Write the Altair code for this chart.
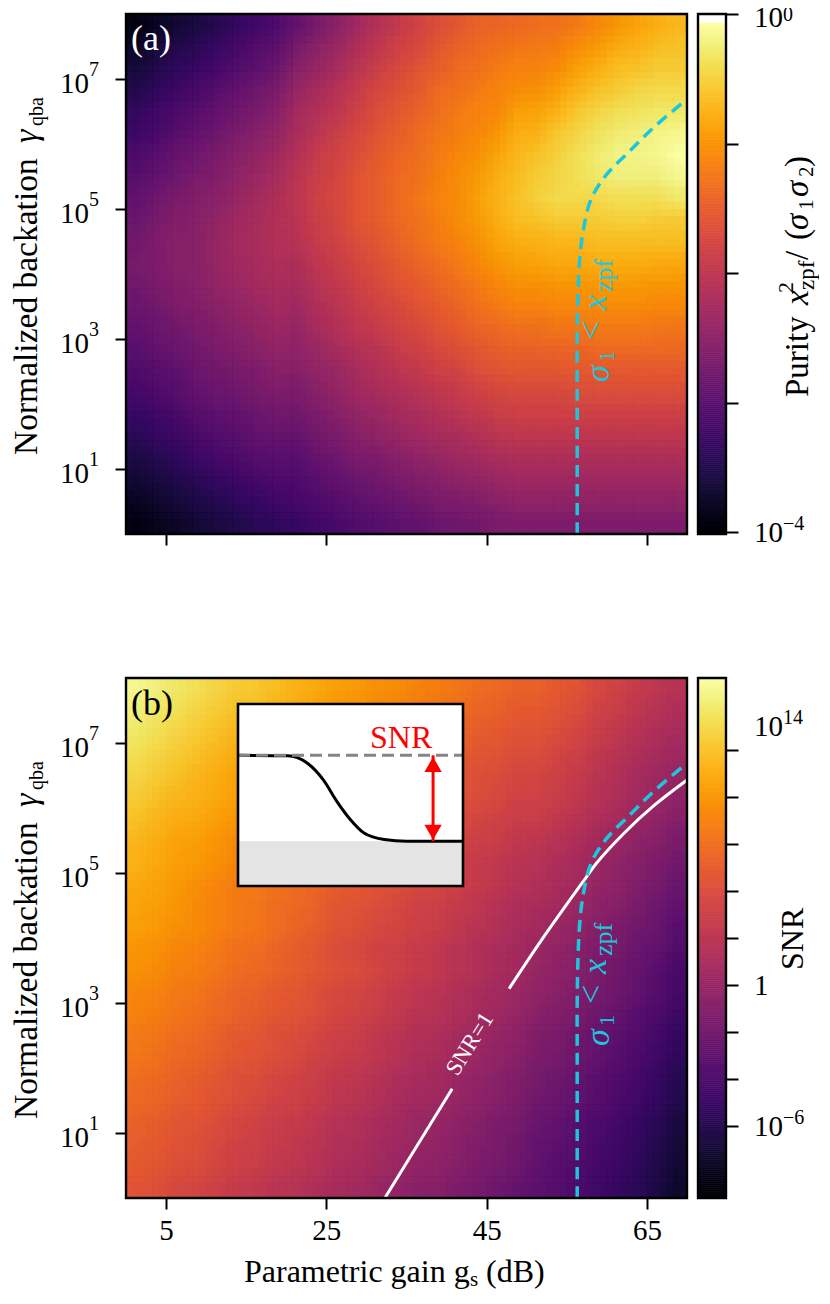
import altair as alt
import pandas as pd

SERIF = "Liberation Serif"
CYAN = "#1cc6dd"
W, H = 561, 520

# ── values ──────────────────────────────────────────────────────────────────

GAIN_EDGES = [i * 2.5 for i in range(29)]            # dB, left edge of each heatmap column
GAMMA_EDGES = [8 - i / 3 for i in range(25)]         # log10 gamma, top to bottom

# colormap level (0-100) per column, top row first
PURITY_COLUMNS = [
    [3,7,10,13,17,19,23,25,28,30,32,33,32,30,28,26,23,21,18,15,12,9,6,3],
    [6,10,13,16,20,22,26,28,31,33,35,35,34,32,30,28,25,23,20,17,14,11,8,5],
    [9,13,16,19,23,25,29,31,34,36,37,37,36,35,32,30,27,25,22,19,16,13,10,7],
    [11,15,18,22,25,28,31,34,36,37,38,38,37,36,34,32,30,28,25,22,19,15,12,9],
    [14,18,21,25,28,31,34,36,38,40,41,41,40,38,36,34,32,30,27,24,21,17,14,11],
    [17,21,24,28,31,34,37,39,41,43,44,43,42,40,38,36,33,31,28,26,23,19,16,13],
    [20,24,27,31,34,37,40,42,44,45,46,45,44,42,40,38,35,33,30,28,25,21,18,15],
    [23,27,30,34,37,40,43,45,47,48,48,47,46,44,42,40,37,35,32,29,26,23,20,16],
    [28,33,37,41,44,46,48,50,51,50,49,47,45,43,41,39,37,34,32,29,26,23,21,18],
    [33,38,41,45,48,50,53,54,55,54,53,51,49,47,45,42,40,37,34,32,29,26,23,20],
    [38,42,45,49,51,54,56,57,58,57,56,54,52,50,48,45,42,40,37,34,31,28,25,22],
    [43,47,50,53,55,58,59,61,61,61,59,57,55,53,51,48,45,43,40,37,34,30,27,24],
    [48,51,54,57,59,61,63,64,64,64,62,60,58,56,53,50,48,45,42,39,35,32,29,25],
    [52,55,58,60,62,64,66,67,67,67,65,63,61,58,56,53,50,47,44,41,37,34,30,27],
    [56,58,61,63,65,67,68,69,70,69,68,66,63,61,58,55,52,49,46,43,39,36,32,28],
    [59,62,64,67,68,70,71,72,73,72,71,68,66,63,61,58,55,51,48,45,41,37,34,30],
    [62,65,67,69,71,72,74,75,75,75,73,71,68,66,63,60,56,53,50,46,43,39,35,31],
    [65,67,69,71,73,74,76,78,79,78,76,74,71,69,66,62,59,55,52,48,44,40,36,32],
    [66,69,71,73,74,77,80,82,83,82,80,77,74,71,67,64,61,57,54,50,46,42,38,34],
    [67,70,73,75,79,82,84,85,86,85,82,79,76,73,69,65,62,58,55,51,47,43,39,35],
    [68,71,73,76,80,83,86,88,89,86,83,80,76,73,69,65,62,58,55,51,47,43,39,35],
    [69,72,75,79,83,87,89,90,91,88,84,81,77,74,70,66,62,58,55,51,47,43,39,35],
    [71,75,79,83,87,90,92,92,91,88,84,81,77,74,70,66,63,59,55,51,47,43,39,35],
    [74,78,82,86,90,93,95,94,91,88,85,82,78,75,71,67,63,59,55,51,47,43,39,35],
    [77,81,85,88,92,95,97,96,92,89,85,82,78,75,71,67,63,59,55,51,47,43,39,35],
    [80,83,86,90,93,96,97,96,92,89,85,82,78,75,71,67,63,59,55,51,47,43,39,35],
    [82,85,88,91,94,97,98,96,92,88,85,81,77,74,70,67,63,59,55,51,47,43,39,35],
    [84,86,88,91,94,98,100,98,94,88,85,81,77,74,70,67,63,59,55,51,47,43,39,35],
]

SNR_COLUMNS = [
    [98,96,94,92,90,88,86,84,83,81,80,79,77,76,74,73,71,70,68,67,65,64,63,61],
    [96,94,92,90,88,86,84,82,81,80,79,78,76,75,73,72,70,69,67,66,64,63,62,60],
    [94,92,90,88,86,84,82,80,79,78,77,76,74,73,71,70,68,67,65,64,62,61,60,58],
    [92,90,88,86,84,83,81,79,78,76,75,75,73,72,70,69,67,66,64,63,61,60,59,57],
    [90,88,86,84,82,81,79,77,76,74,73,73,71,70,68,67,65,64,62,61,59,58,57,55],
    [88,86,84,82,80,79,77,75,74,72,71,71,69,68,66,65,63,62,60,59,57,56,55,53],
    [87,85,83,81,79,78,76,74,73,71,70,70,68,67,65,64,62,61,59,58,56,55,54,52],
    [85,83,81,79,77,76,74,72,71,69,68,68,66,65,63,62,60,59,57,56,54,53,52,50],
    [83,81,79,77,75,74,72,70,69,68,67,66,64,64,62,61,59,58,56,55,53,52,51,49],
    [81,79,77,75,73,72,70,68,67,66,65,64,62,62,60,59,57,56,54,53,51,50,49,47],
    [79,77,75,73,71,71,69,67,65,64,62,61,59,60,58,57,55,54,52,51,49,48,47,45],
    [78,76,74,72,70,70,68,66,64,63,61,60,58,59,57,56,54,53,51,50,48,47,46,44],
    [76,74,72,70,68,68,66,64,62,61,59,58,56,57,55,54,52,51,49,48,46,45,44,42],
    [75,73,71,69,67,66,64,62,60,60,58,57,55,55,53,52,50,49,47,46,44,43,42,40],
    [73,71,69,67,65,64,62,60,58,58,56,55,53,53,51,50,48,47,45,44,42,41,40,38],
    [72,70,68,66,64,63,61,59,57,57,55,54,52,52,50,49,47,46,44,43,41,40,39,37],
    [70,68,66,64,62,61,59,57,55,55,53,52,50,50,48,47,45,44,42,41,39,38,37,35],
    [68,66,64,62,60,59,57,55,53,53,51,50,48,48,46,45,43,42,40,39,37,36,35,33],
    [67,65,63,61,59,58,56,54,52,51,49,48,46,46,44,43,41,40,38,37,35,34,33,31],
    [65,63,61,59,57,56,54,52,50,49,47,46,44,44,42,41,39,38,36,35,33,32,31,29],
    [65,63,61,59,57,56,54,51,49,48,46,44,42,41,40,38,36,35,33,32,30,29,28,27],
    [63,61,59,57,55,54,52,49,47,46,44,42,40,39,38,36,34,33,31,30,28,27,26,25],
    [61,59,57,55,53,52,50,47,45,44,42,40,38,37,36,34,32,31,29,28,26,25,24,23],
    [58,56,54,52,50,49,47,44,42,41,39,37,35,34,33,31,29,28,26,25,23,22,21,20],
    [56,54,52,50,48,47,45,42,40,39,37,35,33,32,31,29,27,26,24,23,21,20,19,18],
    [53,51,49,47,45,44,42,39,37,36,34,32,30,29,28,26,24,23,21,20,18,17,16,15],
    [51,49,47,45,43,42,40,37,35,33,31,30,28,26,25,23,21,20,18,17,15,14,13,12],
    [49,47,45,43,41,39,37,34,32,30,28,26,24,22,21,19,17,16,14,13,11,10,9,8],
]

# sigma_1 < x_zpf contour
SIGMA_GAIN = [56.3, 56.3, 56.3, 56.4, 56.6, 57.0, 58.0, 59.9, 62.6, 65.9, 70.0]
SIGMA_EXP = [0, 2, 3, 3.7, 4.2, 4.63, 5.14, 5.52, 5.86, 6.26, 6.69]

# SNR=1 contour, broken where its label sits
SNR_LOW_GAIN = [32.3, 40.7]
SNR_LOW_EXP = [0, 1.68]
SNR_HIGH_GAIN = [47.8, 51.8, 57.4, 58.7, 62.2, 65.9, 70.0]
SNR_HIGH_EXP = [3.22, 3.96, 4.93, 5.15, 5.62, 6.04, 6.43]

# inset sketch, both axes 0-1
INSET_X = [0, 0.22, 0.31, 0.38, 0.44, 0.5, 0.56, 0.65, 0.75, 1]
INSET_Y = [0.718, 0.715, 0.673, 0.582, 0.464, 0.364, 0.291, 0.255, 0.246, 0.246]
INSET_FLOOR = 0.246
INSET_TOP = 0.718
ARROW_X = 0.867

X_TICKS = [5, 25, 45, 65]
Y_TICK_EXP = [1, 3, 5, 7]

PURITY_TICKS = [0, -1, -2, -3, -4]
PURITY_LABELS = [(-4, "10", "\u22124")]
SNR_TICKS = list(range(-6, 12))
SNR_LABELS = [(11, "10", "14"), (0, "1", ""), (-6, "10", "\u22126")]

# ── helpers ─────────────────────────────────────────────────────────────────

gain_scale = alt.Scale(domain=[0, 70], nice=False, zero=False)
gamma_scale = alt.Scale(type="log", domain=[1, 1e8], nice=False)
level_scale = alt.Scale(scheme="inferno", domain=[0, 100])
inset_x_scale = alt.Scale(domain=[0, 1], range=[112, 337], nice=False)
inset_y_scale = alt.Scale(domain=[0, 1], range=[208, 26], nice=False)


def text(label, x, y, size=33, color="black", style="normal", angle=0, align="left"):
    return (
        alt.Chart(pd.DataFrame({"label": [label]}))
        .mark_text(font=SERIF, fontSize=size, fontStyle=style, color=color,
                   angle=angle, align=align, baseline="alphabetic")
        .encode(x=alt.value(x), y=alt.value(y), text="label:N")
    )


def vtext(label, x, y, size=33, color="black", style="normal"):
    return text(label, x, y, size, color, style, angle=270)


def frame(width, height):
    return (
        alt.Chart(pd.DataFrame({"a": [0]}))
        .mark_rect(fill="transparent", stroke="black", strokeWidth=2.4)
        .encode(x=alt.value(0), x2=alt.value(width), y=alt.value(0), y2=alt.value(height))
    )


def heat_layers(columns, show_x_labels):
    rows = []
    for c, col in enumerate(columns):
        for r, level in enumerate(col):
            rows.append({
                "g0": GAIN_EDGES[c], "g1": GAIN_EDGES[c + 1],
                "y0": 10 ** GAMMA_EDGES[r + 1], "y1": 10 ** GAMMA_EDGES[r],
                "level": level,
            })
    df = pd.DataFrame(rows)
    base = alt.Chart(df).mark_rect(strokeWidth=0.7).encode(
        x=alt.X("g0:Q", scale=gain_scale, title=None, axis=alt.Axis(
            values=X_TICKS, grid=False, domain=False, labels=show_x_labels,
            tickSize=11, tickWidth=2, tickColor="black", labelFont=SERIF,
            labelFontSize=29, labelColor="black", labelPadding=7, labelFlush=False,
            labelOverlap=False)),
        x2="g1:Q",
        y=alt.Y("y0:Q", scale=gamma_scale, title=None, axis=alt.Axis(
            values=[10 ** e for e in Y_TICK_EXP], grid=False, domain=False,
            labels=False, tickSize=11, tickWidth=2, tickColor="black")),
        y2="y1:Q",
        fill=alt.Fill("level:Q", scale=level_scale, legend=None),
        stroke=alt.Stroke("level:Q", scale=level_scale, legend=None),
    )
    # same cells again, staggered inside a cell and see-through, so the cell edges soften
    layers = [base]
    cell_w, cell_h = W / (len(GAIN_EDGES) - 1), H / (len(GAMMA_EDGES) - 1)
    k = 0
    for fx in (-1 / 3, 0, 1 / 3):
        for fy in (-1 / 3, 0, 1 / 3):
            k += 1
            dx, dy = fx * cell_w, fy * cell_h
            layers.append(
                alt.Chart(df).mark_rect(
                    opacity=1 / k, clip=True, xOffset=dx, x2Offset=dx, yOffset=dy, y2Offset=dy
                ).encode(
                    x=alt.X("g0:Q", scale=gain_scale, title=None),
                    x2="g1:Q",
                    y=alt.Y("y0:Q", scale=gamma_scale, title=None),
                    y2="y1:Q",
                    fill=alt.Fill("level:Q", scale=level_scale, legend=None),
                )
            )
    return layers


def contour(gain, exps, color, dash=None, width=3):
    df = pd.DataFrame({"gain": gain, "gamma": [10 ** e for e in exps], "order": range(len(gain))})
    props = dict(color=color, strokeWidth=width, clip=True, interpolate="catmull-rom")
    if dash:
        props["strokeDash"] = dash
    return alt.Chart(df).mark_line(**props).encode(
        x=alt.X("gain:Q", scale=gain_scale, title=None),
        y=alt.Y("gamma:Q", scale=gamma_scale, title=None),
        order="order:Q",
    )


def y_tick_labels():
    df = pd.DataFrame({"tick": [10 ** e for e in Y_TICK_EXP], "base": "10", "sup": [str(e) for e in Y_TICK_EXP]})
    base = alt.Chart(df).mark_text(font=SERIF, fontSize=29, align="right", baseline="alphabetic", dy=14, color="black").encode(
        x=alt.value(-37), y=alt.Y("tick:Q", scale=gamma_scale, title=None), text="base:N")
    sup = alt.Chart(df).mark_text(font=SERIF, fontSize=20, align="left", baseline="alphabetic", dy=-3, color="black").encode(
        x=alt.value(-37), y=alt.Y("tick:Q", scale=gamma_scale, title=None), text="sup:N")
    return [base, sup]


def y_title():
    return [
        vtext("Normalized backation", -89, 441, size=33.5),
        vtext("\u03b3", -89, 129, style="italic", size=34),
        vtext("qba", -83, 112, size=20),
    ]


def sigma_label():
    return [
        vtext("\u03c3", 483, 368, size=34, color=CYAN, style="italic"),
        vtext("1", 488, 348, size=22, color=CYAN),
        vtext("<", 476, 326, size=34, color=CYAN),
        vtext("x", 480, 296, size=34, color=CYAN, style="italic"),
        vtext("zpf", 486, 278, size=26, color=CYAN),
    ]


def colorbar(lo, hi, top, ticks, labels, extra_layers):
    n = 256
    cells = pd.DataFrame({
        "y0": [lo + i * (hi - lo) / n for i in range(n)],
        "y1": [lo + (i + 1) * (hi - lo) / n for i in range(n)],
        "level": [(i + 0.5) * 100 / n for i in range(n)],
    })
    scale = alt.Scale(domain=[lo, top], nice=False, zero=False)
    bar = alt.Chart(cells).mark_rect(strokeWidth=0.7).encode(
        x=alt.value(0), x2=alt.value(28),
        y=alt.Y("y0:Q", scale=scale, title=None, axis=alt.Axis(
            orient="right", values=ticks, grid=False, domain=False, labels=False,
            tickSize=12, tickWidth=2, tickColor="black")),
        y2="y1:Q",
        fill=alt.Fill("level:Q", scale=level_scale, legend=None),
        stroke=alt.Stroke("level:Q", scale=level_scale, legend=None),
    )
    df = pd.DataFrame(labels, columns=["tick", "base", "sup"])
    base = alt.Chart(df).mark_text(font=SERIF, fontSize=29, align="left", baseline="alphabetic", dy=10, color="black").encode(
        x=alt.value(56), y=alt.Y("tick:Q", scale=scale, title=None), text="base:N")
    sup = alt.Chart(df).mark_text(font=SERIF, fontSize=20, align="left", baseline="alphabetic", dy=-2, color="black").encode(
        x=alt.value(85), y=alt.Y("tick:Q", scale=scale, title=None), text="sup:N")
    return alt.layer(bar, frame(28, H), base, sup, *extra_layers).properties(width=28, height=H)


# ── inset ───────────────────────────────────────────────────────────────────

def inset_x(field):
    return alt.X(field, scale=inset_x_scale, axis=None)


def inset_y(field):
    return alt.Y(field, scale=inset_y_scale, axis=None)


def inset():
    box = pd.DataFrame({"x0": [0], "x1": [1], "y0": [0], "y1": [1], "floor": [INSET_FLOOR], "top": [INSET_TOP], "arrow": [ARROW_X]})
    white = alt.Chart(box).mark_rect(fill="white").encode(x=inset_x("x0:Q"), x2="x1:Q", y=inset_y("y0:Q"), y2="y1:Q")
    floor = alt.Chart(box).mark_rect(fill="#e4e4e4").encode(x=inset_x("x0:Q"), x2="x1:Q", y=inset_y("y0:Q"), y2="floor:Q")
    curve = alt.Chart(pd.DataFrame({"x": INSET_X, "y": INSET_Y})).mark_line(
        color="black", strokeWidth=3, interpolate="monotone"
    ).encode(x=inset_x("x:Q"), y=inset_y("y:Q"))
    dashed = alt.Chart(pd.DataFrame({"x": [0, 1], "y": [INSET_TOP, INSET_TOP]})).mark_line(
        color="#858585", strokeWidth=3, strokeDash=[12, 6]
    ).encode(x=inset_x("x:Q"), y=inset_y("y:Q"))
    shaft = alt.Chart(box).mark_rule(color="#ff0000", strokeWidth=3).encode(
        x=inset_x("arrow:Q"), y=inset_y("floor:Q"), y2="top:Q")
    heads = pd.DataFrame({"x": [ARROW_X, ARROW_X], "y": [0.668, 0.296], "shape": ["triangle-up", "triangle-down"]})
    head = alt.Chart(heads).mark_point(filled=True, color="#ff0000", size=300, opacity=1).encode(
        x=inset_x("x:Q"), y=inset_y("y:Q"),
        shape=alt.Shape("shape:N", scale=None, legend=None))
    outline = alt.Chart(box).mark_rect(fill="transparent", stroke="black", strokeWidth=2.6).encode(
        x=inset_x("x0:Q"), x2="x1:Q", y=inset_y("y0:Q"), y2="y1:Q")
    label = alt.Chart(pd.DataFrame({"x": [0.725], "y": [0.76], "t": ["SNR"]})).mark_text(
        font=SERIF, fontSize=32, color="#ff0000", align="center", baseline="alphabetic"
    ).encode(x=inset_x("x:Q"), y=inset_y("y:Q"), text="t:N")
    return alt.layer(white, floor, curve, dashed, shaft, head, outline, label)


# ── panels ──────────────────────────────────────────────────────────────────

panel_a = alt.layer(
    *heat_layers(PURITY_COLUMNS, False),
    contour(SIGMA_GAIN, SIGMA_EXP, CYAN, dash=[12, 7], width=3.5),
    *sigma_label(),
    frame(W, H),
    text("(a)", 5, 36, size=36, color="white"),
    *y_tick_labels(),
    *y_title(),
).properties(width=W, height=H)

low = contour(SNR_LOW_GAIN, SNR_LOW_EXP, "white")
high = contour(SNR_HIGH_GAIN, SNR_HIGH_EXP, "white")
snr_tag = alt.Chart(pd.DataFrame({"gain": [42.9], "gamma": [10 ** 2.37], "t": ["SNR=1"]})).mark_text(
    font=SERIF, fontSize=23, color="white", angle=302, align="center", baseline="middle"
).encode(x=alt.X("gain:Q", scale=gain_scale, title=None), y=alt.Y("gamma:Q", scale=gamma_scale, title=None), text="t:N")

panel_b_main = alt.layer(
    *heat_layers(SNR_COLUMNS, True),
    low, high, snr_tag,
    contour(SIGMA_GAIN, SIGMA_EXP, CYAN, dash=[12, 7], width=3.5),
    *sigma_label(),
    frame(W, H),
    text("(b)", 5, 37, size=36),
    *y_tick_labels(),
    *y_title(),
    text("Parametric gain g", 118, 604, size=32),
    text("s", 344, 608, size=21),
    text("(dB)", 360, 604, size=32),
)

panel_b = alt.layer(panel_b_main, inset()).resolve_scale(
    x="independent", y="independent"
).properties(width=W, height=H)

purity_extra = [
    text("10", 56, 13, size=29),
    text("0", 85, 7, size=20),
    vtext("Purity", 110, 383),
    vtext("x", 110, 291, style="italic"),
    vtext("2", 95, 279, size=22),
    vtext("zpf", 116, 276, size=23),
    vtext("/", 110, 246),
    vtext("(", 110, 226),
    vtext("\u03c3", 110, 216, style="italic"),
    vtext("1", 115, 196, size=21),
    vtext("\u03c3", 110, 183, style="italic"),
    vtext("2", 115, 163, size=21),
    vtext(")", 110, 153),
]

purity_bar = colorbar(-4.015, -0.07, 0, PURITY_TICKS, PURITY_LABELS, purity_extra)
snr_bar = colorbar(-9.08, 13.05, 13.05, SNR_TICKS, SNR_LABELS, [vtext("SNR", 105, 292, size=32)])

chart = alt.concat(
    panel_a, purity_bar, panel_b, snr_bar,
    columns=2, spacing={"row": 144, "column": 11}, bounds="flush",
).properties(
    padding={"left": 1, "top": -4, "right": 0, "bottom": 0},
    background="white",
).configure_view(strokeOpacity=0)

chart.save("out.html", embed_options={"renderer": "svg", "actions": False})
